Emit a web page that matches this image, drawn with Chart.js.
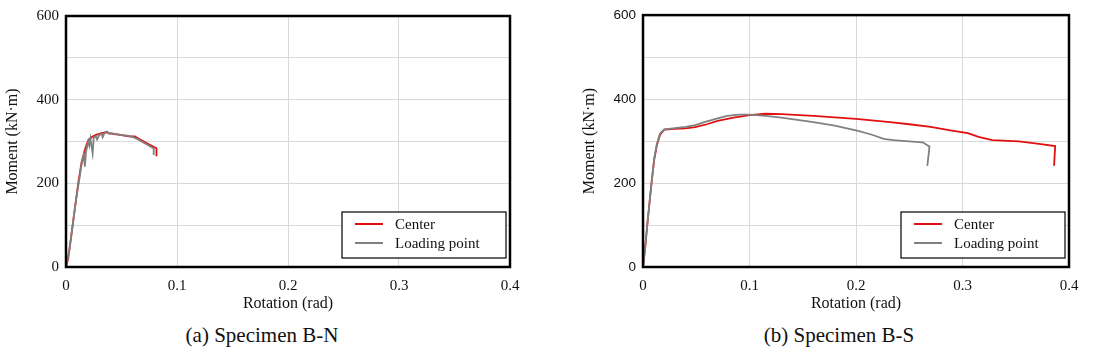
<!DOCTYPE html>
<html>
<head>
<meta charset="utf-8">
<script src="https://cdn.jsdelivr.net/npm/chart.js@4.4.1/dist/chart.umd.min.js"></script>
<style>
  html, body { margin: 0; padding: 0; background: #fff; }
  body { width: 1099px; height: 351px; position: relative; overflow: hidden; }
  .panel { position: absolute; top: 0; }
  .cap { position: absolute; top: 322px; width: 300px; text-align: center;
         font-family: "Liberation Serif", "Times New Roman", Times, serif; font-size: 21px; color: #111; line-height: 26px; }
</style>
</head>
<body>
<div class="panel" style="left:0px;"><canvas id="c1" width="540" height="316"></canvas></div>
<div class="panel" style="left:577px;"><canvas id="c2" width="522" height="316"></canvas></div>
<div class="cap" style="left:112px;">(a) Specimen B-N</div>
<div class="cap" style="left:689px;">(b) Specimen B-S</div>
<script>
// ---- data (rotation rad, moment kN·m) ----
const seriesLabels = ["Center", "Loading point"];
const xTicks = [0, 0.1, 0.2, 0.3, 0.4];
const yTickLabels = [0, 200, 400, 600];

const bnCenter = [[0,0],[0.002,20],[0.005,80],[0.008,140],[0.011,200],[0.014,250],[0.017,280],[0.02,303],[0.023,310],[0.027,316],[0.032,320],[0.036,322],[0.042,318],[0.05,315],[0.058,312],[0.062,312],[0.068,303],[0.075,293],[0.0815,284],[0.0815,265]];
const bnLoading = [[0,0],[0.003,40],[0.006,100],[0.009,160],[0.012,210],[0.014,245],[0.016,268],[0.017,240],[0.018,275],[0.02,300],[0.021,290],[0.022,307],[0.024,272],[0.025,310],[0.027,312],[0.028,305],[0.03,316],[0.032,318],[0.033,310],[0.035,322],[0.037,324],[0.039,318],[0.041,320],[0.044,318],[0.047,317],[0.05,315],[0.055,314],[0.06,311],[0.065,305],[0.07,297],[0.075,290],[0.079,283],[0.079,268]];

const bsCenter = [[0,0],[0.002,45],[0.004,100],[0.006,150],[0.008,200],[0.0105,255],[0.013,290],[0.016,315],[0.02,327],[0.03,329],[0.04,330],[0.049,333],[0.06,340],[0.07,348],[0.085,356],[0.1,362],[0.115,365],[0.13,364],[0.16,360],[0.2,353],[0.232,345],[0.25,340],[0.27,334],[0.29,325],[0.305,319],[0.315,310],[0.328,302],[0.353,299],[0.37,294],[0.387,288],[0.386,241]];
const bsLoading = [[0,0],[0.002,45],[0.004,100],[0.006,150],[0.008,200],[0.0105,258],[0.013,293],[0.016,318],[0.02,328],[0.03,331],[0.04,334],[0.049,338],[0.06,347],[0.07,354],[0.079,360],[0.09,363],[0.1,363],[0.115,360],[0.13,356],[0.16,345],[0.18,337],[0.202,324],[0.215,315],[0.226,305],[0.235,302],[0.25,299],[0.2625,297],[0.269,287],[0.267,241]];

const RED = "#e01010", GRAY = "#808080";
const SERIF = "'Liberation Serif', 'Times New Roman', Times, serif";

const toXY = a => a.map(p => ({x: p[0], y: p[1]}));

const framePlugin = {
  id: "frame",
  afterDraw(chart) {
    const {ctx, chartArea: a} = chart;
    ctx.save();
    ctx.strokeStyle = "#000";
    ctx.lineWidth = 2.5;
    ctx.strokeRect(a.left, a.top, a.right - a.left, a.bottom - a.top);
    // legend box
    const bx = a.right - 168, by = a.bottom - 55, bw = 164, bh = 46;
    ctx.fillStyle = "#fff";
    ctx.fillRect(bx, by, bw, bh);
    ctx.lineWidth = 1.2;
    ctx.strokeRect(bx, by, bw, bh);
    const cols = [RED, GRAY];
    ctx.font = "15px " + SERIF;
    ctx.textBaseline = "middle";
    for (let i = 0; i < 2; i++) {
      const yy = by + 12 + i * 19;
      ctx.strokeStyle = cols[i];
      ctx.lineWidth = 2;
      ctx.beginPath(); ctx.moveTo(bx + 13, yy); ctx.lineTo(bx + 41, yy); ctx.stroke();
      ctx.fillStyle = "#111";
      ctx.fillText(seriesLabels[i], bx + 53, yy + 1);
    }
    ctx.restore();
  }
};

function makeChart(id, center, loading, yTickFont) {
  return new Chart(document.getElementById(id), {
    type: "scatter",
    data: {
      datasets: [
        {label: seriesLabels[0], data: toXY(center), borderColor: RED, borderWidth: 1.8, showLine: true, pointRadius: 0, order: 2, tension: 0},
        {label: seriesLabels[1], data: toXY(loading), borderColor: GRAY, borderWidth: 1.8, showLine: true, pointRadius: 0, order: 1, tension: 0}
      ]
    },
    options: {
      responsive: false,
      animation: false,
      layout: {padding: {top: 11, right: 30, left: 0, bottom: 0}},
      plugins: {legend: {display: false}, tooltip: {enabled: false}},
      scales: {
        x: {
          type: "linear", min: 0, max: 0.4,
          afterBuildTicks: s => { s.ticks = xTicks.map(v => ({value: v})); },
          afterFit: s => { s.height = 49; },
          grid: {color: "#d9d9d9", lineWidth: 1, drawTicks: false},
          border: {display: false},
          ticks: {padding: 10, color: "#111", font: {family: SERIF, size: 15}, callback: v => String(v)},
          title: {display: true, text: "Rotation (rad)", color: "#111", font: {family: SERIF, size: 16}, padding: {top: 0, bottom: 3}}
        },
        y: {
          type: "linear", min: 0, max: 600,
          ticks: {stepSize: 100, padding: 7, color: "#111", font: yTickFont,
                  callback: v => yTickLabels.includes(v) ? String(v) : ""},
          afterFit: s => { s.width = 66; },
          grid: {color: "#d9d9d9", lineWidth: 1, drawTicks: false},
          border: {display: false},
          title: {display: true, text: "Moment (kN·m)", color: "#111", font: {family: SERIF, size: 16}, padding: {top: 3, bottom: 0}}
        }
      }
    },
    plugins: [framePlugin]
  });
}

makeChart("c1", bnCenter, bnLoading, {family: SERIF, size: 15});
makeChart("c2", bsCenter, bsLoading, {family: "'Liberation Sans', Arial, sans-serif", size: 13.5});
</script>
</body>
</html>
